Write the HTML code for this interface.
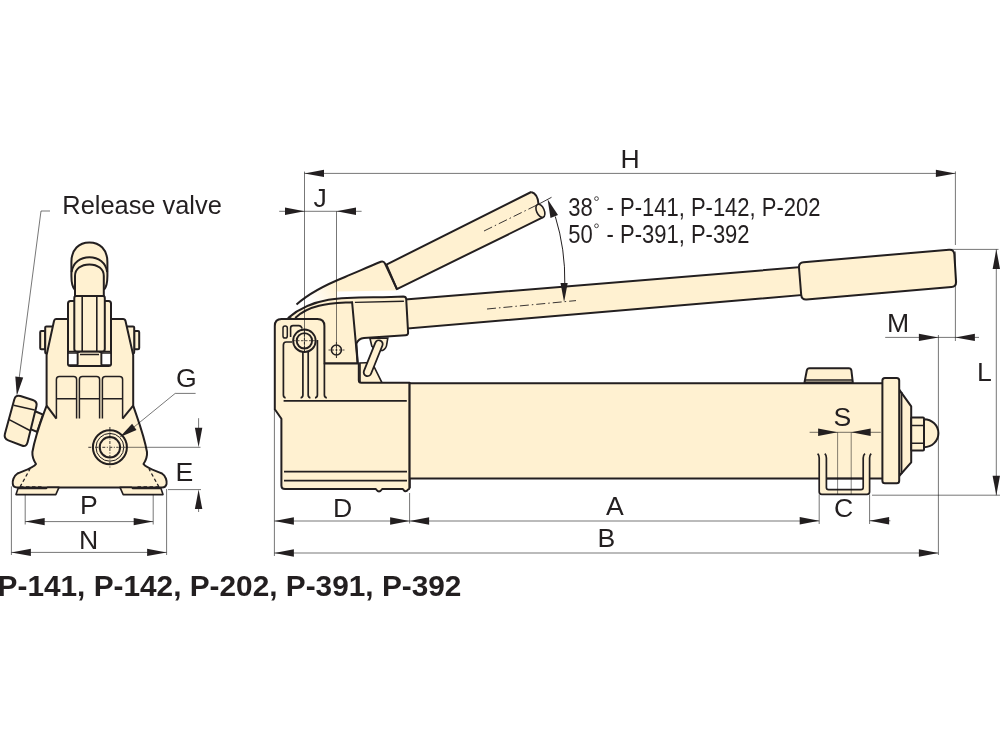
<!DOCTYPE html>
<html><head><meta charset="utf-8"><title>Hand pump dimensions</title>
<style>html,body{margin:0;padding:0;background:#fff;width:1000px;height:750px;overflow:hidden}
svg{display:block;will-change:transform} text{font-family:"Liberation Sans",sans-serif}</style></head>
<body>
<svg width="1000" height="750" viewBox="0 0 1000 750"><defs><linearGradient id="rg" gradientUnits="userSpaceOnUse" x1="338" y1="287" x2="310" y2="304"><stop offset="0" stop-color="#FFF1D1"/><stop offset="1" stop-color="#fff"/></linearGradient></defs><rect width="1000" height="750" fill="#fff"/><polyline points="50,211 41,211 18.5,383" fill="none" stroke="rgba(20,20,20,0.58)" stroke-width="1"/>
<polygon points="16.8,395.8 15.3,376.4 23.2,377.5" fill="#231F20"/>
<rect x="40.2" y="331" width="5.0" height="18.2" rx="1.2" fill="#FFF1D1" stroke="#231F20" stroke-width="2.0"/>
<rect x="45.2" y="326.4" width="7.799999999999997" height="27" rx="1.2" fill="#FFF1D1" stroke="#231F20" stroke-width="2.0"/>
<rect x="134.2" y="331" width="5.0" height="18.2" rx="1.2" fill="#FFF1D1" stroke="#231F20" stroke-width="2.0"/>
<rect x="126.4" y="326.4" width="7.799999999999983" height="27" rx="1.2" fill="#FFF1D1" stroke="#231F20" stroke-width="2.0"/>
<polygon points="34.5,411 43,414.5 37,432 29,428.5" fill="#FFF1D1" stroke="#231F20" stroke-width="2.0"/>
<path d="M14.28,399.42 Q15.60,394.60 20.38,396.08 L32.82,399.92 Q37.60,401.40 36.41,406.26 L27.59,442.34 Q26.40,447.20 21.72,445.44 L8.28,440.36 Q3.60,438.60 4.92,433.78 Z" fill="#FFF1D1" stroke="#231F20" stroke-width="2.0"/>
<path d="M13.6,405.2 L34.6,410 M9.2,419.6 L30.4,430.8" stroke="#231F20" stroke-width="1.6"/>
<path d="M56,319 L123,319 Q125,319 125.5,321 L133.2,355 L133.2,405.6 C138,420 144,435 147,452 C147.5,458 145.5,461 143.5,464 C146,468 155,470.5 162,473.5 C166,476 167,481 166.5,484 C166,486.5 164.5,487.4 162,487.4 L17,487.4 C14.5,487.4 13,486.5 12.8,484 C12.3,481 13.5,476 17.5,473.5 C24.5,470.5 33.5,468 36,464 C34,461 32,458 32.4,452 C35.4,435 41.4,420 46.6,405.6 L46.6,355 L54,321 Q54.5,319 56,319 Z" fill="#FFF1D1" stroke="#231F20" stroke-width="2.0" stroke-linejoin="round"/>
<polygon points="18,488.5 46,488.5 47.5,487.4 59,487.4 55.8,494.6 16,494.6" fill="#FFF1D1" stroke="#231F20" stroke-width="1.6" stroke-linejoin="round"/>
<polygon points="161,488.5 133,488.5 131.5,487.4 120,487.4 123.2,494.6 163,494.6" fill="#FFF1D1" stroke="#231F20" stroke-width="1.6" stroke-linejoin="round"/>
<path d="M20,487 L30,469 M20,487 L44,487 M159,487 L149,469 M159,487 L135,487" stroke="#231F20" stroke-width="1.3" stroke-dasharray="3.5,2.5" fill="none"/>
<polyline points="46.6,405.6 56.4,418.6" fill="none" stroke="#231F20" stroke-width="2.0"/>
<polyline points="133.2,405.6 122.6,418.6" fill="none" stroke="#231F20" stroke-width="2.0"/>
<path d="M56.4,418.6 L56.4,379.5 Q56.4,376.5 59.4,376.5 L73.6,376.5 Q76.6,376.5 76.6,379.5 L76.6,418.6 M56.4,398.8 L76.6,398.8" fill="none" stroke="#231F20" stroke-width="1.5"/>
<path d="M79.4,418.6 L79.4,379.5 Q79.4,376.5 82.4,376.5 L96.6,376.5 Q99.6,376.5 99.6,379.5 L99.6,418.6 M79.4,398.8 L99.6,398.8" fill="none" stroke="#231F20" stroke-width="1.5"/>
<path d="M102.4,418.6 L102.4,379.5 Q102.4,376.5 105.4,376.5 L119.6,376.5 Q122.6,376.5 122.6,379.5 L122.6,418.6 M102.4,398.8 L122.6,398.8" fill="none" stroke="#231F20" stroke-width="1.5"/>
<rect x="68" y="300.9" width="43" height="65.1" rx="2.5" fill="#FFF1D1" stroke="#231F20" stroke-width="2.0"/>
<rect x="68" y="353" width="9.6" height="12" rx="1" fill="#fff" stroke="#231F20" stroke-width="1.6"/>
<rect x="101.4" y="353" width="9.6" height="12" rx="1" fill="#fff" stroke="#231F20" stroke-width="1.6"/>
<path d="M77.6,366 L77.6,353 L80,351.5 M101.4,366 L101.4,353 L99,351.5 M80,354.6 L99,354.6 M68,351.5 L111,351.5" fill="none" stroke="#231F20" stroke-width="1.5"/>
<rect x="74.3" y="295.5" width="30.5" height="56" rx="2.5" fill="#FFF1D1" stroke="#231F20" stroke-width="2.0"/>
<path d="M82.2,296 L82.2,351 M96.8,296 L96.8,351" stroke="#231F20" stroke-width="1.6"/>
<path d="M75,296 L75,290 C72.5,287.5 71.4,284 71.4,276 L71.4,262 C71.4,249.5 79,242.4 89.4,242.4 C99.8,242.4 107.4,249.5 107.4,262 L107.4,276 C107.4,284 106.3,287.5 103.8,290 L103.8,296 Z" fill="#FFF1D1" stroke="#231F20" stroke-width="2.0"/>
<path d="M71.6,272 C73,262.5 80.5,257.2 89.4,257.2 C98.3,257.2 105.8,262.5 107.2,272" fill="none" stroke="#231F20" stroke-width="2.0"/>
<path d="M75,290 L75,276 C75,269 81,264.4 89.4,264.4 C97.8,264.4 103.8,269 103.8,276 L103.8,290" fill="#FFF1D1" stroke="#231F20" stroke-width="2.0"/>
<circle cx="109.9" cy="447.3" r="17" fill="#FFF1D1" stroke="#231F20" stroke-width="2"/>
<circle cx="109.9" cy="447.3" r="13.9" fill="none" stroke="#231F20" stroke-width="1"/>
<circle cx="109.9" cy="447.3" r="10.2" fill="none" stroke="#231F20" stroke-width="2"/>
<path d="M88.3,447.3 L117.9,447.3 M109.9,427 L109.9,468.8" stroke="#231F20" stroke-width="0.9" stroke-dasharray="3,1.5,1,1.5" fill="none"/>
<line x1="117.9" y1="447.3" x2="200.5" y2="447.3" stroke="rgba(20,20,20,0.58)" stroke-width="1.0" />
<polyline points="195.6,393.4 175.2,393.4 134,427" fill="none" stroke="rgba(20,20,20,0.58)" stroke-width="1"/>
<polygon points="119.6,437.2 132.1,423.7 136.5,430.0" fill="#231F20"/>
<line x1="168" y1="489.6" x2="201" y2="489.6" stroke="rgba(20,20,20,0.58)" stroke-width="1.0" />
<line x1="198.6" y1="418.2" x2="198.6" y2="430" stroke="rgba(20,20,20,0.58)" stroke-width="1.0" />
<line x1="198.6" y1="508" x2="198.6" y2="512" stroke="rgba(20,20,20,0.58)" stroke-width="1.0" />
<polygon points="198.6,447.3 194.9,427.8 202.3,427.8" fill="#231F20"/>
<polygon points="198.6,489.6 202.3,509.1 194.9,509.1" fill="#231F20"/>
<line x1="25.2" y1="494.8" x2="25.2" y2="524.5" stroke="rgba(20,20,20,0.58)" stroke-width="1.0" />
<line x1="153.2" y1="494.8" x2="153.2" y2="524.5" stroke="rgba(20,20,20,0.58)" stroke-width="1.0" />
<line x1="25.2" y1="521.6" x2="153.2" y2="521.6" stroke="rgba(20,20,20,0.58)" stroke-width="1.0" />
<polygon points="25.2,521.6 44.7,517.9 44.7,525.3" fill="#231F20"/>
<polygon points="153.2,521.6 133.7,525.3 133.7,517.9" fill="#231F20"/>
<line x1="11.4" y1="486.4" x2="11.4" y2="555" stroke="rgba(20,20,20,0.58)" stroke-width="1.0" />
<line x1="166.6" y1="489" x2="166.6" y2="555" stroke="rgba(20,20,20,0.58)" stroke-width="1.0" />
<line x1="11.4" y1="552.4" x2="166.6" y2="552.4" stroke="rgba(20,20,20,0.58)" stroke-width="1.0" />
<polygon points="11.4,552.4 30.9,548.7 30.9,556.1" fill="#231F20"/>
<polygon points="166.6,552.4 147.1,556.1 147.1,548.7" fill="#231F20"/>
<path d="M296.5,304.5 C306,296 325,285 345,277 C356,272.5 368,267 380.8,261.8 Q383.6,260.8 385,263.5 L396.9,289.1 L396,290.6 L337,291.6 L337,300 L296.5,304.5 Z" fill="url(#rg)" stroke="none"/>
<path d="M531.2,192 L386.4,264.6 L396.9,289.1 L543.2,217.2 Z" fill="#FFF1D1" stroke="none"/>
<path d="M531.2,192 L386.4,264.6 L396.9,289.1 L543.2,217.2" fill="none" stroke="#231F20" stroke-width="2.0" stroke-linejoin="round"/>
<path d="M296.5,304.5 C306,296 325,285 345,277 C356,272.5 368,267 380.8,261.8 Q383.6,260.8 385,263.5 L396.9,289.1" fill="none" stroke="#231F20" stroke-width="2.0"/>
<path d="M531.2,192 C535,193 538,197 538.5,204 L543.2,217.2" fill="#FFF1D1" stroke="#231F20" stroke-width="2.0"/>
<ellipse cx="540.4" cy="210.8" rx="3.8" ry="7" transform="rotate(-24 540.4 210.8)" fill="#FFF1D1" stroke="#231F20" stroke-width="1.6"/>
<line x1="484" y1="231" x2="539" y2="204" stroke="#231F20" stroke-width="0.9" stroke-dasharray="9,3,1.5,3"/>
<path d="M405,299.6 L801,267.1 L803,294.9 L405,328.7 Z" fill="#FFF1D1" stroke="#231F20" stroke-width="2.0"/>
<path d="M799.00,267.58 Q798.60,262.60 803.58,262.17 L949.02,249.73 Q954.00,249.30 954.32,254.29 L956.08,281.61 Q956.40,286.60 951.42,287.02 L806.58,299.38 Q801.60,299.80 801.20,294.82 Z" fill="#FFF1D1" stroke="#231F20" stroke-width="2.0"/>
<line x1="487" y1="309" x2="576" y2="300.6" stroke="#231F20" stroke-width="0.9" stroke-dasharray="9,3,1.5,3"/>
<path d="M555.3,216.5 A216,216 0 0 1 564.8,284.0" fill="none" stroke="#231F20" stroke-width="1"/>
<polygon points="547.6,199.3 558.0,215.1 550.5,218.0" fill="#231F20"/>
<polygon points="564.1,302.0 560.5,283.0 567.7,283.0" fill="#231F20"/>
<line x1="539" y1="204" x2="551.5" y2="197.3" stroke="#231F20" stroke-width="0.9" />
<path d="M370,338.5 L371.8,346 L376,350.5 L382.5,350.5 Q386.5,348.5 386.8,344 L387.8,338 Z" fill="#FFF1D1" stroke="#231F20" stroke-width="1.6"/>
<path d="M372,362.5 L382,382.8 L360,382.8 L360,363 Z" fill="#FFF1D1" stroke="#231F20" stroke-width="1.6"/>
<g transform="translate(373.2,358.2) rotate(22)"><rect x="-3.8" y="-19" width="7.6" height="38" rx="3.8" fill="#FFF1D1" stroke="#231F20" stroke-width="1.8"/></g>
<path d="M288.4,317.8 C320,290.4 365.3,299.6 403.2,296.5 Q406,296.5 406.2,299 L408.1,332.5 Q408.2,335.2 405.5,335.3 L364,338 Q358.5,338.5 356.4,343.6 L357.7,363.6 L323.4,363.6 L323.4,330 Z" fill="#FFF1D1" stroke="#231F20" stroke-width="2.0" stroke-linejoin="round"/>
<path d="M295.2,318 C310.7,303.3 332.5,303.6 352.1,302.2 L357.7,363.6" fill="none" stroke="#231F20" stroke-width="2.0"/>
<line x1="354.9" y1="302.4" x2="403.9" y2="301.3" stroke="#231F20" stroke-width="1.4"/>
<path d="M274.8,326 Q274.8,319 281.5,319 L317.4,319 Q324.4,319 324.4,326 L324.4,363.6 L358.8,363.6 L358.8,380.3 Q358.8,382.8 361.3,382.8 L409.6,382.8 L409.6,487.8 Q409.4,489.4 408,489.4 Q405.6,493.4 402.8,489 L382.2,489 Q379,493.8 375.8,489 L285,489 Q281.4,489 281.4,485.5 L281.4,418.8 L274.8,409.2 Z" fill="#FFF1D1" stroke="#231F20" stroke-width="2.0" stroke-linejoin="round"/>
<path d="M292,342 L286.2,342 Q283.4,342 283.4,345 L283.4,395 Q283.4,397.5 285.6,397.8 M302.9,350 L302.9,395 Q302.9,397.5 300.6,397.8 M308.2,350 L308.2,395 Q308.2,397.5 310.4,397.8 M317.4,340 L317.4,395 Q317.4,397.5 315,397.8 M324.4,363.6 L324.4,395 Q324.4,397.5 326.8,397.8" fill="none" stroke="#231F20" stroke-width="1.7"/>
<line x1="283.6" y1="400.9" x2="406.8" y2="400.9" stroke="#231F20" stroke-width="1.8"/>
<line x1="284" y1="471.6" x2="407" y2="471.6" stroke="#231F20" stroke-width="1.8"/>
<line x1="284" y1="480.6" x2="407" y2="480.6" stroke="#231F20" stroke-width="1.8"/>
<rect x="283" y="326" width="4.3" height="12" rx="2.1" fill="#FFF1D1" stroke="#231F20" stroke-width="1.5"/>
<path d="M290.6,337 L290.6,328 Q290.6,325.6 293,325.6 L298.8,325.6 Q301,325.6 302.2,328.5" fill="#FFF1D1" stroke="#231F20" stroke-width="1.6"/>
<circle cx="304.4" cy="340.8" r="11.3" fill="#FFF1D1" stroke="#231F20" stroke-width="1.9"/>
<circle cx="304.4" cy="340.8" r="7.7" fill="#FFF1D1" stroke="#231F20" stroke-width="1.9"/>
<path d="M293,340.7 L316,340.7 M304.4,330 L304.4,352" stroke="#231F20" stroke-width="0.8" stroke-dasharray="2.5,1.5"/>
<circle cx="336.4" cy="350" r="5" fill="#FFF1D1" stroke="#231F20" stroke-width="1.6"/>
<path d="M328.5,350 L344.5,350 M336.4,342 L336.4,358" stroke="#231F20" stroke-width="0.8" stroke-dasharray="2,1.5"/>
<rect x="409.6" y="383.2" width="473" height="95.4" fill="#FFF1D1" stroke="none"/>
<path d="M409.6,383.2 L882.4,383.2 M409.6,478.6 L882.4,478.6" stroke="#231F20" stroke-width="2.0"/>
<line x1="409.6" y1="382.8" x2="409.6" y2="488" stroke="#231F20" stroke-width="2.0"/>
<path d="M804.5,382.4 L806.8,370.5 Q807.3,368.3 809.5,368.3 L848.8,368.3 Q851,368.3 851.4,370.5 L852.8,382.4 Z" fill="#FFF1D1" stroke="#231F20" stroke-width="2.0" stroke-linejoin="round"/>
<line x1="805" y1="380" x2="852.5" y2="380" stroke="#231F20" stroke-width="1.3"/>
<path d="M899.2,389.6 L911.2,406.4 L911.2,462.4 L899.2,476 Z" fill="#FFF1D1" stroke="#231F20" stroke-width="2.0" stroke-linejoin="round"/>
<line x1="901.6" y1="392" x2="901.6" y2="474" stroke="#231F20" stroke-width="1.6"/>
<rect x="882.4" y="377.9" width="16.8" height="105.3" rx="2.5" fill="#FFF1D1" stroke="#231F20" stroke-width="2.0"/>
<path d="M924,419.2 A14.4,14 0 0 1 924,447.2 Z" fill="#FFF1D1" stroke="#231F20" stroke-width="2.0"/>
<rect x="911.2" y="417.6" width="12.8" height="32.8" rx="1" fill="#FFF1D1" stroke="#231F20" stroke-width="2.0"/>
<path d="M911.2,425.6 L924,425.6 M911.2,443.2 L924,443.2" stroke="#231F20" stroke-width="1.5"/>
<path d="M817.6,453.6 Q819.2,455 819.2,458 L819.2,491.8 Q819.2,494.4 821.8,494.4 L867,494.4 Q869.6,494.4 869.6,491.8 L869.6,458 Q869.6,455 871.2,453.6 L865,453.6 Q863.2,455 863.2,458 L863.2,487.5 Q863.2,489.6 861,489.6 L828.6,489.6 Q826.4,489.6 826.4,487.5 L826.4,458 Q826.4,455 824.8,453.6 Z" fill="#FFF1D1" stroke="none"/>
<rect x="827.2" y="479.6" width="35.2" height="9.2" fill="#fff"/>
<path d="M817.6,453.6 Q819.2,455 819.2,458 L819.2,491.8 Q819.2,494.4 821.8,494.4 L867,494.4 Q869.6,494.4 869.6,491.8 L869.6,458 Q869.6,455 871.2,453.6 M824.8,453.6 Q826.4,455 826.4,458 L826.4,487.5 Q826.4,489.6 828.6,489.6 L861,489.6 Q863.2,489.6 863.2,487.5 L863.2,458 Q863.2,455 865,453.6 M826.4,478.6 L863.2,478.6" fill="none" stroke="#231F20" stroke-width="1.7"/>
<line x1="304.5" y1="171.6" x2="304.5" y2="352" stroke="rgba(20,20,20,0.58)" stroke-width="1.0" />
<line x1="304.5" y1="173.4" x2="955.4" y2="173.4" stroke="rgba(20,20,20,0.58)" stroke-width="1.0" />
<line x1="955.4" y1="171.4" x2="955.4" y2="245" stroke="rgba(20,20,20,0.58)" stroke-width="1.0" />
<line x1="955.4" y1="251.5" x2="955.4" y2="341" stroke="rgba(20,20,20,0.58)" stroke-width="1.0" />
<polygon points="304.5,173.4 324.0,169.7 324.0,177.1" fill="#231F20"/>
<polygon points="955.4,173.4 935.9,177.1 935.9,169.7" fill="#231F20"/>
<line x1="279.2" y1="211.3" x2="361.6" y2="211.3" stroke="rgba(20,20,20,0.58)" stroke-width="1.0" />
<line x1="336.5" y1="211.3" x2="336.5" y2="358" stroke="rgba(20,20,20,0.58)" stroke-width="1.0" />
<polygon points="304.5,211.3 285.0,215.0 285.0,207.6" fill="#231F20"/>
<polygon points="336.5,211.3 356.0,207.6 356.0,215.0" fill="#231F20"/>
<line x1="885.2" y1="337.4" x2="979" y2="337.4" stroke="rgba(20,20,20,0.58)" stroke-width="1.0" />
<line x1="938.4" y1="335" x2="938.4" y2="555" stroke="rgba(20,20,20,0.58)" stroke-width="1.0" />
<polygon points="938.4,337.4 918.9,341.1 918.9,333.7" fill="#231F20"/>
<polygon points="955.4,337.4 974.9,333.7 974.9,341.1" fill="#231F20"/>
<line x1="950.6" y1="249.4" x2="998.5" y2="249.4" stroke="rgba(20,20,20,0.58)" stroke-width="1.0" />
<line x1="872" y1="495.2" x2="1000" y2="495.2" stroke="rgba(20,20,20,0.58)" stroke-width="1.0" />
<line x1="996.3" y1="249.4" x2="996.3" y2="495.2" stroke="rgba(20,20,20,0.58)" stroke-width="1.0" />
<polygon points="996.3,249.4 1000.0,268.9 992.6,268.9" fill="#231F20"/>
<polygon points="996.3,495.2 992.6,475.7 1000.0,475.7" fill="#231F20"/>
<line x1="809.6" y1="432.3" x2="880.8" y2="432.3" stroke="rgba(20,20,20,0.58)" stroke-width="1.0" />
<line x1="837.6" y1="432.3" x2="837.6" y2="494.4" stroke="rgba(20,20,20,0.58)" stroke-width="0.9" />
<line x1="851.2" y1="432.3" x2="851.2" y2="494.4" stroke="rgba(20,20,20,0.58)" stroke-width="0.9" />
<polygon points="837.6,432.3 818.1,436.0 818.1,428.6" fill="#231F20"/>
<polygon points="851.2,432.3 870.7,428.6 870.7,436.0" fill="#231F20"/>
<line x1="819.2" y1="494.4" x2="819.2" y2="524" stroke="rgba(20,20,20,0.58)" stroke-width="1.0" />
<line x1="869.6" y1="494.4" x2="869.6" y2="524" stroke="rgba(20,20,20,0.58)" stroke-width="1.0" />
<line x1="869.6" y1="520.8" x2="890.4" y2="520.8" stroke="rgba(20,20,20,0.58)" stroke-width="1.0" />
<polygon points="819.2,520.8 799.7,524.5 799.7,517.1" fill="#231F20"/>
<polygon points="869.6,520.8 889.1,517.1 889.1,524.5" fill="#231F20"/>
<line x1="274.4" y1="409" x2="274.4" y2="556" stroke="rgba(20,20,20,0.58)" stroke-width="1.0" />
<line x1="409.6" y1="493" x2="409.6" y2="523.5" stroke="rgba(20,20,20,0.58)" stroke-width="1.0" />
<line x1="274.4" y1="521" x2="819.2" y2="521" stroke="rgba(20,20,20,0.58)" stroke-width="1.0" />
<polygon points="274.4,521.0 293.9,517.3 293.9,524.7" fill="#231F20"/>
<polygon points="409.6,521.0 390.1,524.7 390.1,517.3" fill="#231F20"/>
<polygon points="409.6,521.0 429.1,517.3 429.1,524.7" fill="#231F20"/>
<line x1="274.4" y1="553" x2="938.4" y2="553" stroke="rgba(20,20,20,0.58)" stroke-width="1.0" />
<polygon points="274.4,553.0 293.9,549.3 293.9,556.7" fill="#231F20"/>
<polygon points="938.4,553.0 918.9,556.7 918.9,549.3" fill="#231F20"/><g fill="#231F20" font-family="Liberation Sans, sans-serif"><text x="62.3" y="214" font-size="25.4" text-anchor="start" font-weight="normal" >Release valve</text>
<text x="186.3" y="387.4" font-size="26.6" text-anchor="middle" font-weight="normal" >G</text>
<text x="184.3" y="480.6" font-size="26.6" text-anchor="middle" font-weight="normal" >E</text>
<text x="88.8" y="514" font-size="26.6" text-anchor="middle" font-weight="normal" >P</text>
<text x="88.5" y="548.9" font-size="26.6" text-anchor="middle" font-weight="normal" >N</text>
<text x="630.2" y="167.8" font-size="26.6" text-anchor="middle" font-weight="normal" >H</text>
<text x="320.2" y="206.8" font-size="26.6" text-anchor="middle" font-weight="normal" >J</text>
<text x="898.2" y="331.5" font-size="26.6" text-anchor="middle" font-weight="normal" >M</text>
<text x="984.5" y="380.5" font-size="26.6" text-anchor="middle" font-weight="normal" >L</text>
<text x="842.3" y="425.6" font-size="26.6" text-anchor="middle" font-weight="normal" >S</text>
<text x="843.6" y="516.8" font-size="26.6" text-anchor="middle" font-weight="normal" >C</text>
<text x="342.7" y="516.6" font-size="26.6" text-anchor="middle" font-weight="normal" >D</text>
<text x="614.8" y="515.2" font-size="26.6" text-anchor="middle" font-weight="normal" >A</text>
<text x="606.4" y="547.2" font-size="26.6" text-anchor="middle" font-weight="normal" >B</text>
<text transform="translate(568.2,216.3) scale(0.88,1)" font-size="25">38</text>
<text transform="translate(606.6,216.3) scale(0.88,1)" font-size="25">- P-141, P-142, P-202</text>
<text transform="translate(568.2,243.3) scale(0.88,1)" font-size="25">50</text>
<text transform="translate(606.6,243.3) scale(0.88,1)" font-size="25">- P-391, P-392</text>
<circle cx="596.5" cy="198.6" r="1.9" fill="none" stroke="#231F20" stroke-width="0.8"/>
<circle cx="596.5" cy="225.8" r="1.9" fill="none" stroke="#231F20" stroke-width="0.8"/>
<text x="-2.4" y="596.2" font-size="29.8" text-anchor="start" font-weight="bold" >P-141, P-142, P-202, P-391, P-392</text></g></svg>
</body></html>
